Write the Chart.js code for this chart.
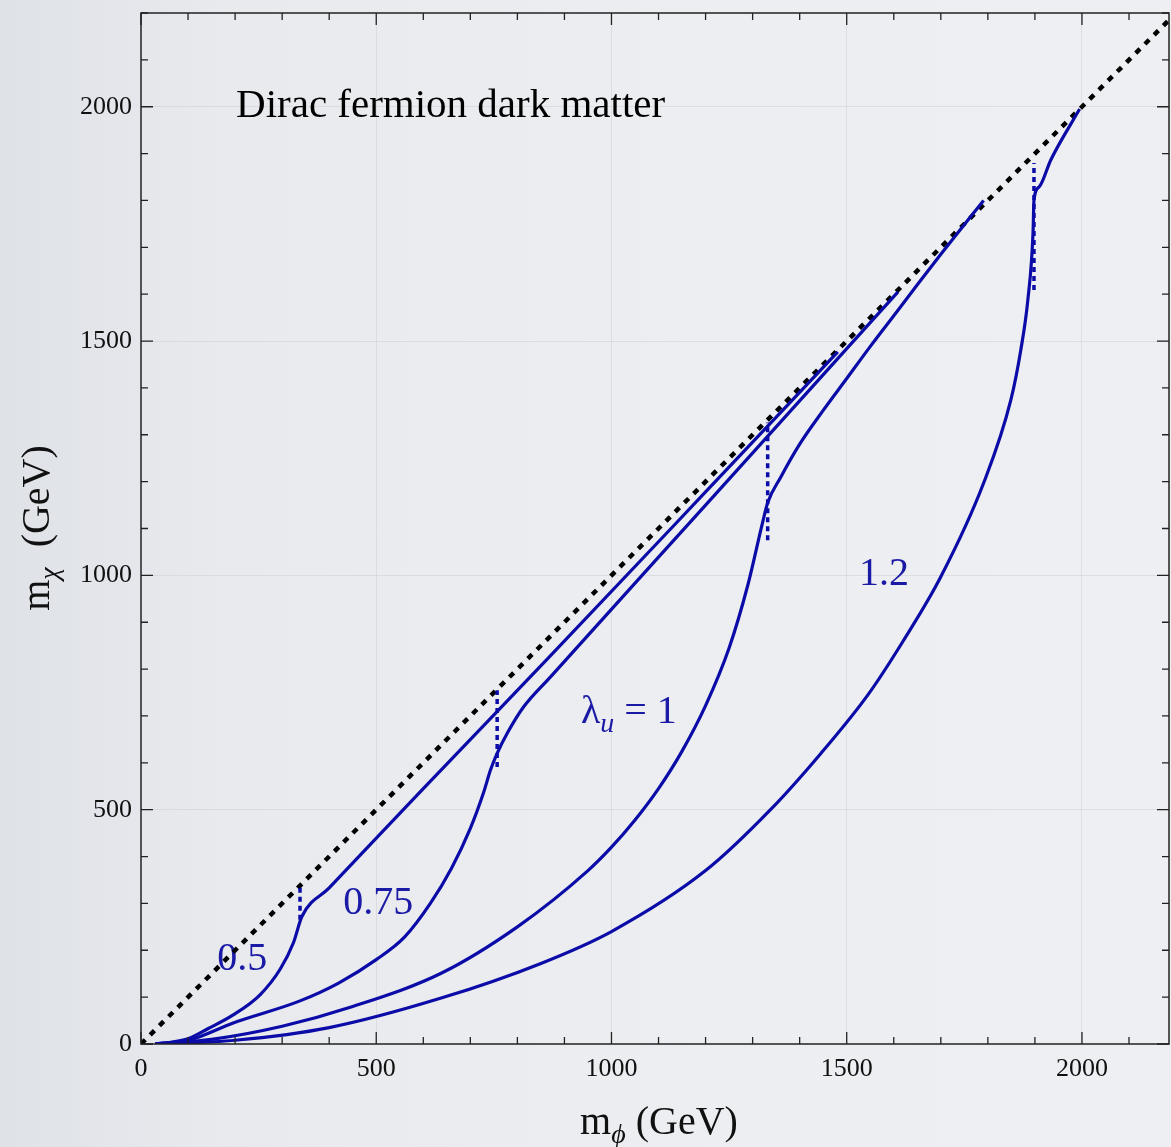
<!DOCTYPE html>
<html lang="en">
<head>
<meta charset="UTF-8">
<title>Dirac fermion dark matter</title>
<script src="https://cdn.jsdelivr.net/npm/chart.js@4.4.1/dist/chart.umd.min.js"></script>
<style>
  html, body { margin: 0; padding: 0; }
  body {
    width: 1171px; height: 1147px; overflow: hidden;
    background: linear-gradient(to right, #dfe2e7 0%, #e8eaee 20%, #eceef1 60%, #eeeff2 100%);
  }
  canvas { display: block; }
</style>
</head>
<body>
<canvas id="mycanvas" width="1171" height="1147"></canvas>
<script>
// m_phi (x) and m_chi (y), GeV
var diagX = [0, 2200];
var diagY = [0, 2200];

var lam05X = [30, 60, 104, 143, 196, 253, 296, 324, 342, 400, 600, 870, 1200, 1481];
var lam05Y = [0, 3, 13, 33, 62, 105, 160, 216, 272, 333, 545, 828, 1178, 1477];

var lam075X = [30, 104, 196, 338, 420, 500, 560, 615, 660, 700, 728, 743, 757, 779, 813, 870, 1200, 1609];
var lam075Y = [0, 9, 45, 92, 130, 180, 228, 300, 375, 460, 536, 585, 620, 664, 719, 783, 1150, 1605];

var lam1X = [30, 150, 300, 450, 638, 800, 950, 1000, 1050, 1100, 1150, 1200, 1250, 1290, 1321, 1332, 1360, 1400, 1450, 1500, 1549, 1600, 1650, 1700, 1791];
var lam1Y = [0, 10, 38, 80, 151, 250, 370, 420, 478, 545, 625, 722, 845, 980, 1112, 1155, 1210, 1280, 1352, 1420, 1487, 1554, 1620, 1685, 1800];

var lam12X = [30, 200, 400, 638, 850, 1000, 1200, 1338, 1445, 1545, 1620, 1700, 1791, 1849, 1870, 1885, 1896, 1898, 1909, 1934, 1995];
var lam12Y = [0, 8, 35, 98, 172, 240, 370, 500, 620, 745, 860, 997, 1197, 1375, 1481, 1588, 1731, 1801, 1829, 1887, 1995];

// dotted vertical jumps
var jumpX = [338, 757, 1332, 1898];
var jumpLo = [265, 591, 1075, 1609];
var jumpHi = [335, 755, 1326, 1880];

// tick values (labels every 500)
var tickValues = [];
for (var t = 0; t <= 2200; t += 100) tickValues.push(t);

// curve labels (data coords of left end of baseline)
var labelText = ['0.5', '0.75', 'λ|u| = 1', '1.2'];
var labelX = [162, 430, 935, 1526];
var labelY = [158, 277, 685, 980];

var blue = '#0b0ba8';

function pts(xs, ys) {
  var out = [];
  for (var i = 0; i < xs.length; i++) out.push({x: xs[i], y: ys[i]});
  return out;
}

var datasets = [];
[[lam05X, lam05Y], [lam075X, lam075Y], [lam1X, lam1Y], [lam12X, lam12Y]].forEach(function (c) {
  datasets.push({
    data: pts(c[0], c[1]), showLine: true, borderColor: blue, borderWidth: 3.2,
    pointRadius: 0, cubicInterpolationMode: 'monotone', fill: false
  });
});
for (var j = 0; j < jumpX.length; j++) {
  datasets.push({
    data: pts([jumpX[j], jumpX[j]], [jumpLo[j], jumpHi[j]]), showLine: true,
    borderColor: blue, borderWidth: 3.5, borderDash: [5, 4], pointRadius: 0
  });
}
datasets.push({
  data: pts(diagX, diagY), showLine: true, borderColor: '#000', borderWidth: 4.5,
  borderDash: [6, 7], pointRadius: 0
});

var serif = "'Liberation Serif', 'Times New Roman', serif";

// draws pieces of text one after another: [text, font, baseline shift]
function drawRich(ctx, x, y, pieces, color, align) {
  var total = 0;
  pieces.forEach(function (p) { ctx.font = p[1]; total += ctx.measureText(p[0]).width; });
  var cx = align === 'center' ? x - total / 2 : x;
  ctx.fillStyle = color;
  ctx.textAlign = 'left';
  ctx.textBaseline = 'alphabetic';
  pieces.forEach(function (p) {
    ctx.font = p[1];
    ctx.fillText(p[0], cx, y + p[2]);
    cx += ctx.measureText(p[0]).width;
  });
}

var framePlugin = {
  id: 'frame',
  beforeDatasetsDraw: function (chart) {
    var ctx = chart.ctx, xs = chart.scales.x, ys = chart.scales.y;
    ctx.save();
    drawRich(ctx, xs.getPixelForValue(202), ys.getPixelForValue(1979),
      [['Dirac fermion dark matter', '41px ' + serif, 0]], '#000', 'left');
    for (var i = 0; i < labelText.length; i++) {
      var px = xs.getPixelForValue(labelX[i]), py = ys.getPixelForValue(labelY[i]);
      var parts = labelText[i].split('|');
      var pieces;
      if (parts.length === 3) {
        pieces = [[parts[0], '40px ' + serif, 0], [parts[1], 'italic 28px ' + serif, 9], [parts[2], '40px ' + serif, 0]];
      } else {
        pieces = [[labelText[i], '40px ' + serif, 0]];
      }
      drawRich(ctx, px, py, pieces, '#1a1aa6', 'left');
    }
    ctx.restore();
  },
  afterDraw: function (chart) {
    var ctx = chart.ctx, a = chart.chartArea, xs = chart.scales.x, ys = chart.scales.y;
    ctx.save();
    ctx.strokeStyle = '#222';
    ctx.lineWidth = 1.5;
    ctx.strokeRect(a.left, a.top, a.right - a.left, a.bottom - a.top);
    ctx.lineWidth = 1.3;
    ctx.beginPath();
    tickValues.forEach(function (v) {
      var len = (v % 500 === 0) ? 12 : 7;
      if (v <= xs.max) {
        var px = xs.getPixelForValue(v);
        ctx.moveTo(px, a.bottom); ctx.lineTo(px, a.bottom - len);
        ctx.moveTo(px, a.top); ctx.lineTo(px, a.top + len);
      }
      if (v <= ys.max) {
        var py = ys.getPixelForValue(v);
        ctx.moveTo(a.left, py); ctx.lineTo(a.left + len, py);
        ctx.moveTo(a.right, py); ctx.lineTo(a.right - len, py);
      }
    });
    ctx.stroke();
    // axis titles
    drawRich(ctx, 659, 1134, [['m', '40px ' + serif, 0], ['ϕ', 'italic 28px ' + serif, 9], [' (GeV)', '40px ' + serif, 0]], '#111', 'center');
    ctx.translate(49, 528);
    ctx.rotate(-Math.PI / 2);
    drawRich(ctx, 0, 0, [['m', '40px ' + serif, 0], ['χ', 'italic 28px ' + serif, 9], ['  (GeV)', '40px ' + serif, 0]], '#111', 'center');
    ctx.restore();
  }
};

function gridColor(c) {
  var v = c.tick ? c.tick.value : 0;
  return (v % 500 === 0 && v > 0) ? 'rgba(205,207,213,0.55)' : 'rgba(0,0,0,0)';
}

function setTicks(s) {
  s.ticks = tickValues.filter(function (v) { return v <= s.max; }).map(function (v) { return {value: v}; });
}

function tickLabel(v) { return v % 500 === 0 ? String(v) : ''; }

new Chart(document.getElementById('mycanvas'), {
  type: 'scatter',
  data: { datasets: datasets },
  plugins: [framePlugin],
  options: {
    responsive: false,
    animation: false,
    devicePixelRatio: 1,
    layout: { padding: { top: 13, right: 2, left: 0, bottom: 0 } },
    plugins: { legend: { display: false }, tooltip: { enabled: false } },
    scales: {
      x: {
        type: 'linear', min: 0, max: 2185,
        border: { display: false },
        grid: { color: gridColor, lineWidth: 1, drawTicks: false },
        ticks: {
          autoSkip: false, maxRotation: 0, padding: 10, color: '#111',
          font: { family: serif, size: 26 }, callback: tickLabel
        },
        afterBuildTicks: setTicks,
        afterFit: function (s) { s.height = 103; s.paddingLeft = 0; s.paddingRight = 0; }
      },
      y: {
        type: 'linear', min: 0, max: 2200,
        border: { display: false },
        grid: { color: gridColor, lineWidth: 1, drawTicks: false },
        ticks: {
          autoSkip: false, padding: 9, color: '#111',
          font: { family: serif, size: 26 }, callback: tickLabel
        },
        afterBuildTicks: setTicks,
        afterFit: function (s) { s.width = 141; s.paddingTop = 0; s.paddingBottom = 0; }
      }
    }
  }
});
</script>
</body>
</html>
